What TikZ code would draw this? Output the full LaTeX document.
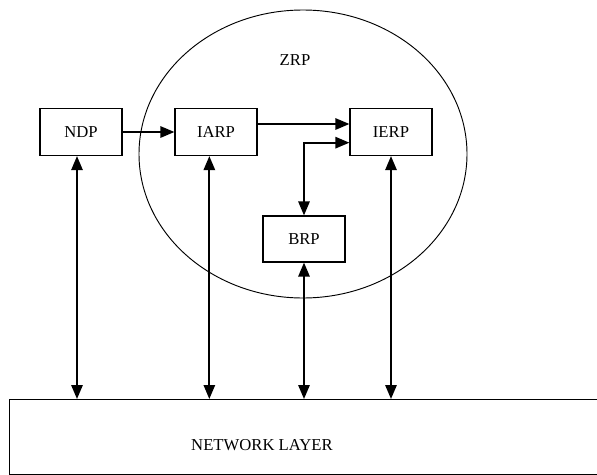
\documentclass[tikz,border=0pt]{standalone}
\usepackage{fontspec}
\setmainfont{Liberation Serif}
\usetikzlibrary{positioning, arrows.meta, shapes.geometric}

\begin{document}
\begin{tikzpicture}[
    x=0.75pt, y=-0.75pt,
    font=\fontsize{12.5}{15}\selectfont,
    >={Triangle[length=10.5pt, width=8.5pt]},
    box/.style={draw, line width=0.9pt, minimum width=61.5pt, minimum height=35.25pt, inner sep=0pt},
    link/.style={->, line width=1.4pt},
    duplex/.style={<->, line width=1.4pt},
]

% ---- frame ----
\clip (0,0) rectangle (597,475);

% ---- ZRP zone ----
\node[draw, ellipse, line width=0.7pt, minimum width=246pt, minimum height=216pt, inner sep=0pt]
    (zrp) at (303,154) {};
\node (zrplabel) at (295,60) {ZRP};

% ---- protocol boxes ----
\node[box] (ndp)  at (81,132)  {NDP};
\node[box] (iarp) at (216,132) {IARP};
\node[box] (ierp) at (391,132) {IERP};
\node[box, minimum height=34.5pt] (brp) at (304,239) {BRP};

% ---- network layer ----
\node[draw, line width=0.9pt, anchor=north west, minimum width=447.5pt, minimum height=56.25pt]
    (net) at (8.5,399) {};
\node (netlabel) at (262,445) {NETWORK LAYER};

% ---- connectors ----
\draw[link] (ndp.east) -- (iarp.west);
\draw[link] ([yshift=6pt]iarp.east) -- ([yshift=6pt]ierp.west);
\draw[duplex] ([yshift=-8pt]ierp.west) -| (brp.north);

% down to the network layer
\foreach \n/\dx in {ndp/-3pt, iarp/-5pt, brp/0pt, ierp/0pt}
    \draw[duplex] ([xshift=\dx]\n.south) -- ([xshift=\dx]\n.south |- net.north);

\end{tikzpicture}
\end{document}
